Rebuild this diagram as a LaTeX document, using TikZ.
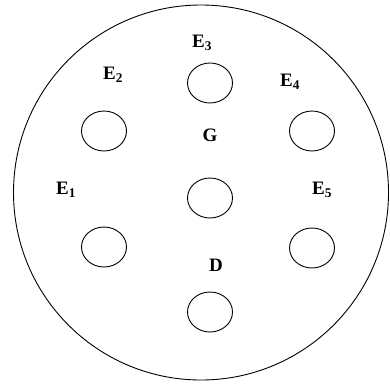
\documentclass[tikz,border=0pt]{standalone}
\usepackage{fontspec}
\setmainfont{Liberation Serif}
\usetikzlibrary{shapes.geometric}
\begin{document}
\begin{tikzpicture}[x=1pt,y=-1pt,
			plate/.style={circle, draw, line width=0.9pt, minimum size=375pt, inner sep=0pt},
			hole/.style={ellipse, draw, line width=0.9pt, minimum width=45pt, minimum height=40pt, inner sep=0pt},
			lbl/.style={font=\bfseries\fontsize{19}{22}\selectfont, inner sep=0pt}]
			\useasboundingbox (0,0) rectangle (390,383);
			%---------------- PLATE ----------------
			\node[plate] (pl) at (201,192.5) {};
			%---------------- HOLES ----------------
			\node[hole] (h3) at (210,83) {};
			\node[hole] (h2) at (104,131) {};
			\node[hole] (h4) at (312,131) {};
			\node[hole] (hg) at (210,198) {};
			\node[hole] (h1) at (104,247) {};
			\node[hole] (h5) at (312,248) {};
			\node[hole] (hd) at (210,312) {};
			%---------------- LABELS ----------------
			\node[lbl] (e3) at (202,43) {E\textsubscript{3}};
			\node[lbl] (e2) at (113,75) {E\textsubscript{2}};
			\node[lbl] (e4) at (290,82) {E\textsubscript{4}};
			\node[lbl] (g) at (210,135) {G};
			\node[lbl] (e1) at (66,190) {E\textsubscript{1}};
			\node[lbl] (e5) at (322,190) {E\textsubscript{5}};
			\node[lbl] (d) at (216,265) {D};
\end{tikzpicture}
\end{document}
